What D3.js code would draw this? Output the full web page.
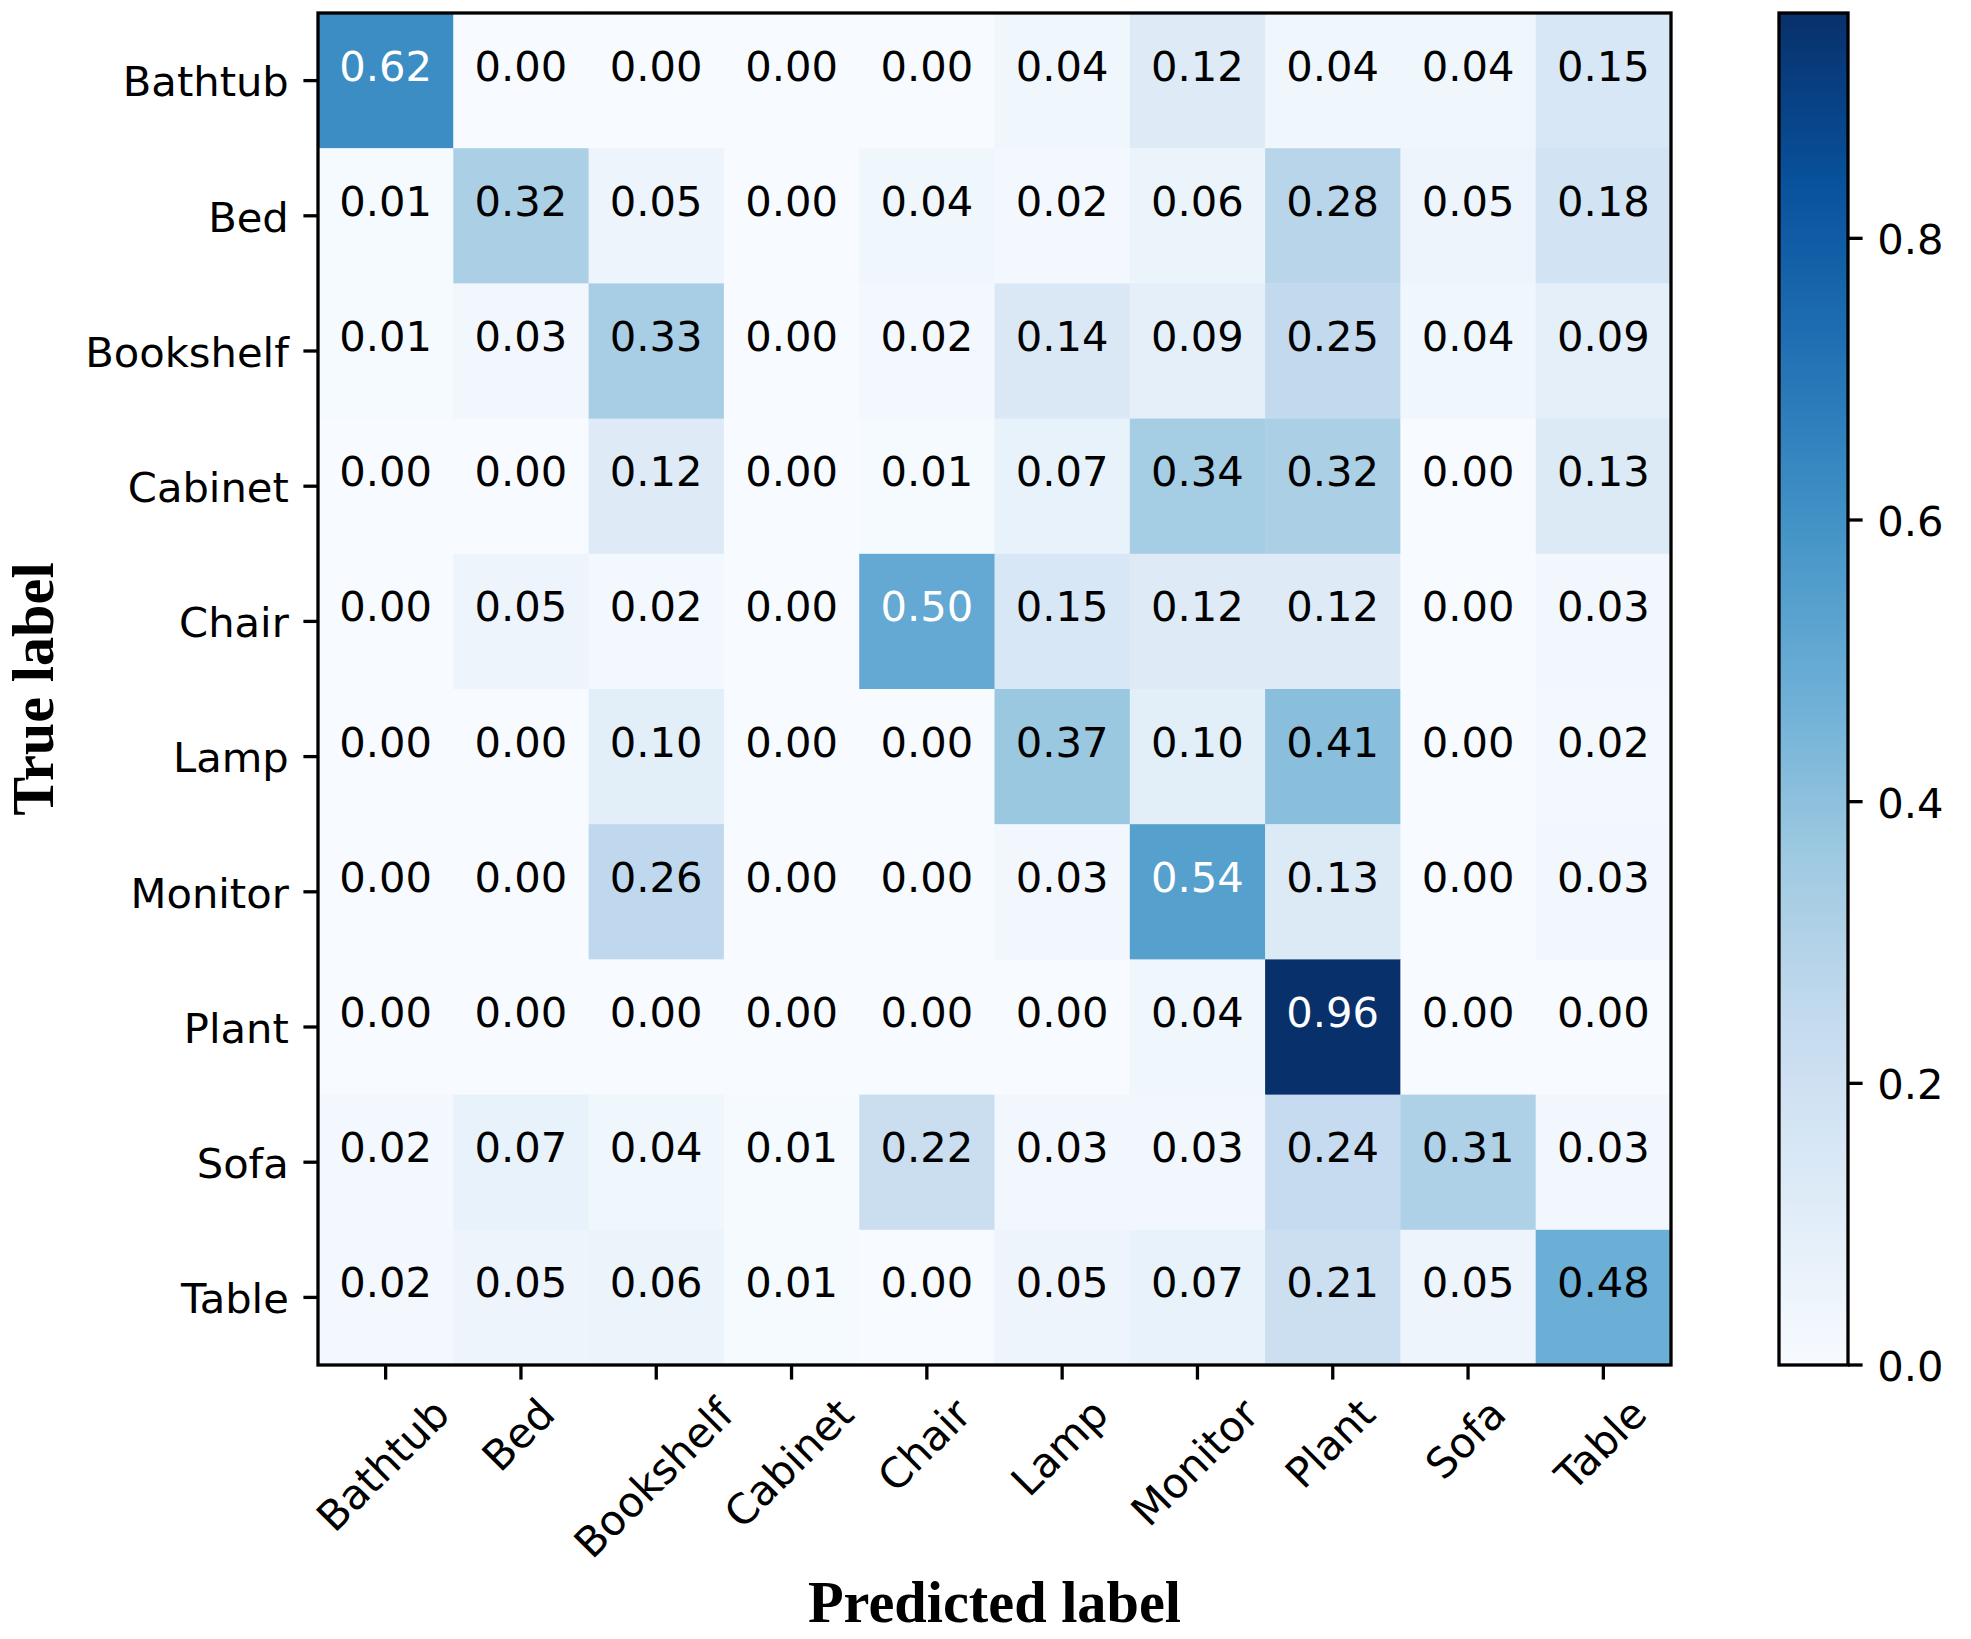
<!DOCTYPE html>
<html>
<head>
<meta charset="utf-8">
<script src="https://cdnjs.cloudflare.com/ajax/libs/d3/7.8.5/d3.min.js"></script>
<style>
  body { margin: 0; background: #fff; }
  .tick-label { font-family: "DejaVu Sans", sans-serif; font-size: 41.67px; fill: #000; }
  .axis-title { font-family: "Liberation Serif", "Times New Roman", serif; font-weight: bold; font-size: 58.33px; fill: #000; }
</style>
</head>
<body>
<svg id="chart" width="1971" height="1639"></svg>
<script>
// confusion matrix, row = true label, column = predicted label
var classes = ["Bathtub", "Bed", "Bookshelf", "Cabinet", "Chair", "Lamp", "Monitor", "Plant", "Sofa", "Table"];

var rowBathtub   = [0.62, 0.00, 0.00, 0.00, 0.00, 0.04, 0.12, 0.04, 0.04, 0.15];
var rowBed       = [0.01, 0.32, 0.05, 0.00, 0.04, 0.02, 0.06, 0.28, 0.05, 0.18];
var rowBookshelf = [0.01, 0.03, 0.33, 0.00, 0.02, 0.14, 0.09, 0.25, 0.04, 0.09];
var rowCabinet   = [0.00, 0.00, 0.12, 0.00, 0.01, 0.07, 0.34, 0.32, 0.00, 0.13];
var rowChair     = [0.00, 0.05, 0.02, 0.00, 0.50, 0.15, 0.12, 0.12, 0.00, 0.03];
var rowLamp      = [0.00, 0.00, 0.10, 0.00, 0.00, 0.37, 0.10, 0.41, 0.00, 0.02];
var rowMonitor   = [0.00, 0.00, 0.26, 0.00, 0.00, 0.03, 0.54, 0.13, 0.00, 0.03];
var rowPlant     = [0.00, 0.00, 0.00, 0.00, 0.00, 0.00, 0.04, 0.96, 0.00, 0.00];
var rowSofa      = [0.02, 0.07, 0.04, 0.01, 0.22, 0.03, 0.03, 0.24, 0.31, 0.03];
var rowTable     = [0.02, 0.05, 0.06, 0.01, 0.00, 0.05, 0.07, 0.21, 0.05, 0.48];

var colorbarTicks = [0.0, 0.2, 0.4, 0.6, 0.8];

var matrix = [rowBathtub, rowBed, rowBookshelf, rowCabinet, rowChair,
              rowLamp, rowMonitor, rowPlant, rowSofa, rowTable];

var cells = [];
matrix.forEach(function(row, i) {
  row.forEach(function(v, j) { cells.push({ row: classes[i], col: classes[j], value: v }); });
});

var vmax = d3.max(cells, function(d) { return d.value; }),
    thresh = vmax / 2;

// matplotlib "Blues" (linear segments between the ColorBrewer stops)
var blues = ["#f7fbff", "#deebf7", "#c6dbef", "#9ecae1", "#6baed6", "#4292c6", "#2171b5", "#08519c", "#08306b"];
var color = d3.scaleLinear()
    .domain(blues.map(function(c, i) { return i / (blues.length - 1) * vmax; }))
    .range(blues)
    .interpolate(d3.interpolateRgb)
    .clamp(true);

var m = [13, 300, 274, 318], // top right bottom left
    W = 1971, H = 1639,
    pw = 1353, ph = 1352,
    tickLen = 14.6, pad = 14.6, lw = 3.3;

var svg = d3.select("#chart");
svg.append("rect").attr("width", W).attr("height", H).attr("fill", "#fff");

var x = d3.scaleBand().domain(classes).range([0, pw]),
    y = d3.scaleBand().domain(classes).range([0, ph]);

var g = svg.append("g").attr("transform", "translate(" + m[3] + "," + m[0] + ")");

g.selectAll("rect.cell")
    .data(cells)
  .enter().append("rect")
    .attr("class", "cell")
    .attr("x", function(d) { return x(d.col); })
    .attr("y", function(d) { return y(d.row); })
    .attr("width", x.bandwidth() + 0.5)
    .attr("height", y.bandwidth() + 0.5)
    .attr("fill", function(d) { return color(d.value); });

// values, baseline at the cell centre like plt.text default
g.selectAll("text.val")
    .data(cells)
  .enter().append("text")
    .attr("class", "tick-label")
    .attr("x", function(d) { return x(d.col) + x.bandwidth() / 2; })
    .attr("y", function(d) { return y(d.row) + y.bandwidth() / 2; })
    .attr("text-anchor", "middle")
    .attr("fill", function(d) { return d.value > thresh ? "#fff" : "#000"; })
    .style("fill", function(d) { return d.value > thresh ? "#fff" : "#000"; })
    .text(function(d) { return d.value.toFixed(2); });

// y ticks
g.selectAll("line.yt")
    .data(classes)
  .enter().append("line")
    .attr("x1", -tickLen).attr("x2", 0)
    .attr("y1", function(d) { return y(d) + y.bandwidth() / 2; })
    .attr("y2", function(d) { return y(d) + y.bandwidth() / 2; })
    .attr("stroke", "#000").attr("stroke-width", lw);

g.selectAll("text.yl")
    .data(classes)
  .enter().append("text")
    .attr("class", "tick-label")
    .attr("x", -tickLen - pad)
    .attr("y", function(d) { return y(d) + y.bandwidth() / 2; })
    .attr("dy", "0.38em")
    .attr("text-anchor", "end")
    .text(function(d) { return d; });

// x ticks
g.selectAll("line.xt")
    .data(classes)
  .enter().append("line")
    .attr("y1", ph).attr("y2", ph + tickLen)
    .attr("x1", function(d) { return x(d) + x.bandwidth() / 2; })
    .attr("x2", function(d) { return x(d) + x.bandwidth() / 2; })
    .attr("stroke", "#000").attr("stroke-width", lw);

// rotated 45deg, bbox centred under the tick (matplotlib ha=center)
var fs = 41.67, asc = 0.76 * fs, desc = 0.24 * fs, c45 = Math.SQRT1_2,
    ty = ph + tickLen + pad;
g.selectAll("text.xl")
    .data(classes)
  .enter().append("text")
    .attr("class", "tick-label")
    .attr("text-anchor", "end")
    .text(function(d) { return d; })
    .attr("transform", function(d) {
      var w = this.getComputedTextLength(),
          px = x(d) + x.bandwidth() / 2 + (w + asc - desc) / 2 * c45,
          py = ty + asc * c45;
      return "translate(" + px + "," + py + ") rotate(-45)";
    });

// frame
g.append("rect")
    .attr("width", pw).attr("height", ph)
    .attr("fill", "none").attr("stroke", "#000").attr("stroke-width", lw);

// axis titles
g.append("text")
    .attr("class", "axis-title")
    .attr("x", pw / 2).attr("y", 1622 - m[0])
    .attr("text-anchor", "middle")
    .text("Predicted label");

g.append("text")
    .attr("class", "axis-title")
    .attr("transform", "translate(" + (53 - m[3]) + "," + ph / 2 + ") rotate(-90)")
    .attr("text-anchor", "middle")
    .text("True label");

// colorbar
var cbx = 1779, cbw = 69;
var cy = d3.scaleLinear().domain([0, vmax]).range([m[0] + ph, m[0]]);

var grad = svg.append("defs").append("linearGradient")
    .attr("id", "cbgrad")
    .attr("x1", 0).attr("y1", 1).attr("x2", 0).attr("y2", 0);
grad.selectAll("stop")
    .data(d3.range(0, 1.0001, 0.02))
  .enter().append("stop")
    .attr("offset", function(t) { return t; })
    .attr("stop-color", function(t) { return color(t * vmax); });

svg.append("rect")
    .attr("x", cbx).attr("y", cy(vmax))
    .attr("width", cbw).attr("height", cy(0) - cy(vmax))
    .attr("fill", "url(#cbgrad)")
    .attr("stroke", "#000").attr("stroke-width", lw);

var cb = svg.append("g").attr("transform", "translate(" + (cbx + cbw) + ",0)");
cb.selectAll("line")
    .data(colorbarTicks)
  .enter().append("line")
    .attr("x1", 0).attr("x2", tickLen)
    .attr("y1", function(d) { return cy(d); })
    .attr("y2", function(d) { return cy(d); })
    .attr("stroke", "#000").attr("stroke-width", lw);
cb.selectAll("text")
    .data(colorbarTicks)
  .enter().append("text")
    .attr("class", "tick-label")
    .attr("x", tickLen + pad)
    .attr("y", function(d) { return cy(d); })
    .attr("dy", "0.38em")
    .text(function(d) { return d.toFixed(1); });
</script>
</body>
</html>
